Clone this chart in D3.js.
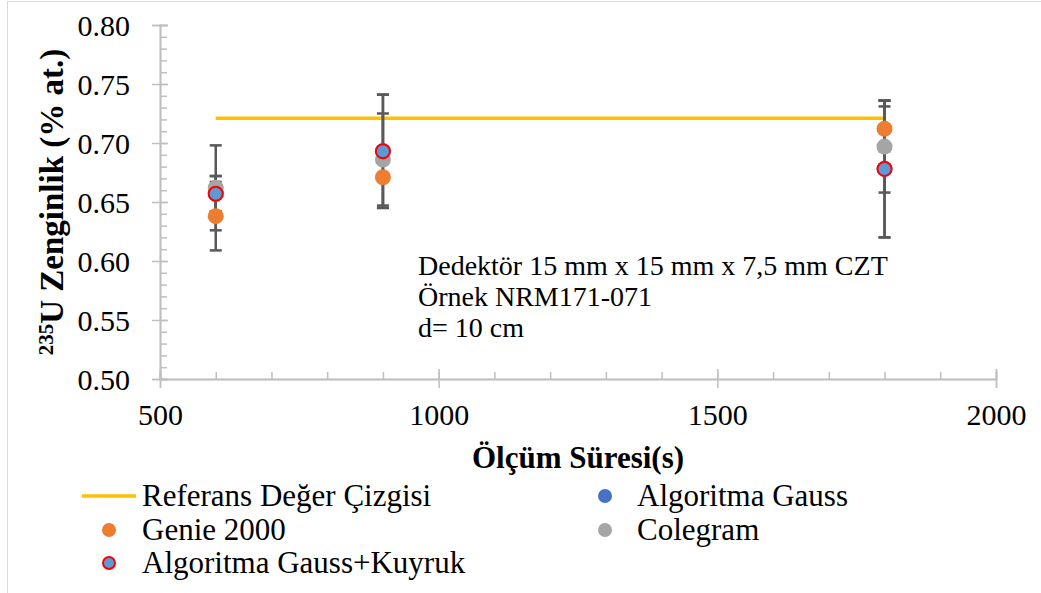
<!DOCTYPE html>
<html>
<head>
<meta charset="utf-8">
<script src="https://cdn.jsdelivr.net/npm/d3@7"></script>
<style>
  body { margin: 0; background: #fff; }
</style>
</head>
<body>
<div class="chart"></div>
<script>
// data
var times = [600, 900, 1800];
var refValue = 0.721;
var genie = [0.638, 0.671, 0.712];
var genieErr = [0.029, 0, 0.019];
var gauss = [0.657, 0.693, 0.678];
var gaussErr = [0.015, 0.048, 0.058];
var colegram = [0.662, 0.686, 0.697];
var colegramErr = [0.036, 0.039, 0.039];
var kuyruk = [0.657, 0.693, 0.678];
var kuyrukErr = [0.015, 0.048, 0.058];
var xTicks = [500, 1000, 1500, 2000];
var yTicks = [0.50, 0.55, 0.60, 0.65, 0.70, 0.75, 0.80];
var noteLines = ["Dedektör 15 mm x 15 mm x 7,5 mm CZT", "Örnek NRM171-071", "d= 10 cm"];

var FONT = "'Liberation Serif', 'Times New Roman', serif";
var W = 1041, H = 593;
var margin = {top: 25, left: 160},
    width = 836, height = 354;

var x = d3.scaleLinear().domain([500, 2000]).range([0, width]);
var y = d3.scaleLinear().domain([0.5, 0.8]).range([height, 0]);

var svg = d3.select(".chart").append("svg")
    .attr("width", W)
    .attr("height", H)
    .style("font-family", FONT);

// outer chart border
svg.append("rect")
    .attr("x", 7.5).attr("y", 1.5)
    .attr("width", 1100).attr("height", 700)
    .attr("fill", "#fff").attr("stroke", "#d9d9d9");

var g = svg.append("g")
    .attr("transform", "translate(" + margin.left + "," + margin.top + ")");

var axisColor = "#bfbfbf";

// x axis: minor ticks upwards, major crossing
var xMinor = g.append("g")
    .attr("transform", "translate(0," + height + ")")
    .call(d3.axisTop(x).tickValues(d3.range(500, 2001, 100)).tickSize(7).tickFormat(""));
var xMajorUp = g.append("g")
    .attr("transform", "translate(0," + height + ")")
    .call(d3.axisTop(x).tickValues(xTicks).tickSize(10).tickFormat(""));
var xAxis = g.append("g")
    .attr("transform", "translate(0," + height + ")")
    .call(d3.axisBottom(x).tickValues(xTicks).tickSize(9).tickPadding(16).tickFormat(d3.format("d")));

// y axis: minor ticks to the right, major crossing
var yMinor = g.append("g")
    .call(d3.axisRight(y).tickValues(d3.range(50, 81).map(function(d) { return d / 100; })).tickSize(7).tickFormat(""));
var yMajorR = g.append("g")
    .call(d3.axisRight(y).tickValues(yTicks).tickSize(8).tickFormat(""));
var yAxis = g.append("g")
    .call(d3.axisLeft(y).tickValues(yTicks).tickSize(8).tickPadding(22).tickFormat(d3.format(".2f")));

[xMinor, xMajorUp, xAxis, yMinor, yMajorR, yAxis].forEach(function(a) {
    a.attr("font-family", null);
    a.selectAll("path").attr("stroke", axisColor).attr("stroke-width", 1.5);
    a.selectAll("line").attr("stroke", axisColor).attr("stroke-width", 1.5);
    a.selectAll("text").style("font-family", FONT).style("font-size", "30px").attr("fill", "#000");
});
yAxis.selectAll("text").attr("dy", "0.34em");
xAxis.selectAll("text").attr("dy", "0.71em");

// reference line
g.append("path")
    .datum(times)
    .attr("fill", "none")
    .attr("stroke", "#ffc000")
    .attr("stroke-width", 3.5)
    .attr("d", d3.line().x(function(d) { return x(d); }).y(function() { return y(refValue); }));

// series
var series = [
    {vals: genie, err: genieErr, fill: "#ed7d31", stroke: "none"},
    {vals: gauss, err: gaussErr, fill: "#4472c4", stroke: "none"},
    {vals: colegram, err: colegramErr, fill: "#a5a5a5", stroke: "none"},
    {vals: kuyruk, err: kuyrukErr, fill: "#5b9bd5", stroke: "#ff0000"}
];

// error bars
series.forEach(function(s) {
    var pts = times.map(function(t, i) { return {t: t, v: s.vals[i], e: s.err[i]}; })
        .filter(function(p) { return p.e > 0; });
    var eb = g.append("g").attr("stroke", "#595959").attr("stroke-width", 2.5);
    eb.selectAll(".v").data(pts).enter().append("line")
        .attr("x1", function(d) { return x(d.t); })
        .attr("x2", function(d) { return x(d.t); })
        .attr("y1", function(d) { return y(d.v + d.e); })
        .attr("y2", function(d) { return y(d.v - d.e); });
    [1, -1].forEach(function(sg) {
        eb.selectAll(".c" + sg).data(pts).enter().append("line")
            .attr("x1", function(d) { return x(d.t) - 6; })
            .attr("x2", function(d) { return x(d.t) + 6; })
            .attr("y1", function(d) { return y(d.v + sg * d.e); })
            .attr("y2", function(d) { return y(d.v + sg * d.e); });
    });
});

// points
series.forEach(function(s) {
    g.selectAll(null).data(s.vals).enter().append("circle")
        .attr("cx", function(d, i) { return x(times[i]); })
        .attr("cy", function(d) { return y(d); })
        .attr("r", s.stroke === "none" ? 8 : 7)
        .attr("fill", s.fill)
        .attr("stroke", s.stroke)
        .attr("stroke-width", 2);
});

// annotation
var note = svg.append("text")
    .attr("x", 418).attr("y", 275)
    .style("font-family", FONT)
    .style("font-size", "28px");
note.selectAll("tspan").data(noteLines).enter().append("tspan")
    .attr("x", 418)
    .attr("dy", function(d, i) { return i === 0 ? 0 : 31; })
    .text(function(d) { return d; });

// axis titles
svg.append("text")
    .attr("x", 578).attr("y", 468)
    .attr("text-anchor", "middle")
    .style("font-family", FONT)
    .style("font-size", "31px").style("font-weight", "bold")
    .text("Ölçüm Süresi(s)");

var yt = svg.append("text")
    .attr("transform", "translate(63," + (margin.top + height / 2) + ") rotate(-90)")
    .attr("text-anchor", "middle")
    .style("font-family", FONT)
    .style("font-size", "33px").style("font-weight", "bold");
yt.append("tspan").style("font-size", "21px").attr("dy", "-10").text("235");
yt.append("tspan").attr("dy", "10").text("U Zenginlik (% at.)");

// legend
var legendItems = [
    {label: "Referans Değer Çizgisi", type: "line", col: 0, row: 0},
    {label: "Genie 2000", type: "dot", s: series[0], col: 0, row: 1},
    {label: "Algoritma Gauss+Kuyruk", type: "dot", s: series[3], col: 0, row: 2},
    {label: "Algoritma Gauss", type: "dot", s: series[1], col: 1, row: 0},
    {label: "Colegram", type: "dot", s: series[2], col: 1, row: 1}
];
var colX = [109, 605], textX = [142, 637], rowY = [496, 530, 563];
var lg = svg.append("g");
legendItems.forEach(function(d) {
    var cy = rowY[d.row];
    if (d.type === "line") {
        lg.append("line")
            .attr("x1", colX[d.col] - 27).attr("x2", colX[d.col] + 27)
            .attr("y1", cy).attr("y2", cy)
            .attr("stroke", "#ffc000").attr("stroke-width", 3.5);
    } else {
        lg.append("circle")
            .attr("cx", colX[d.col]).attr("cy", cy)
            .attr("r", d.s.stroke === "none" ? 7 : 6)
            .attr("fill", d.s.fill)
            .attr("stroke", d.s.stroke).attr("stroke-width", 2);
    }
    lg.append("text")
        .attr("x", textX[d.col]).attr("y", cy + 10)
        .style("font-family", FONT)
        .style("font-size", "31px")
        .text(d.label);
});
</script>
</body>
</html>
